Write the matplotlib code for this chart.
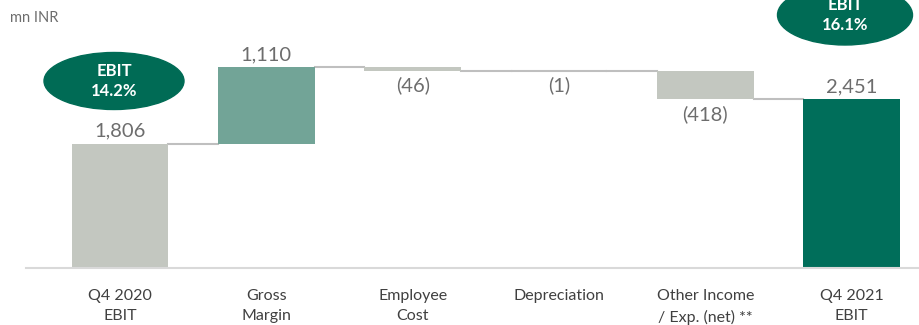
import matplotlib
matplotlib.use("Agg")
import matplotlib.pyplot as plt
from matplotlib.patches import Ellipse

plt.rcParams["font.family"] = ["Lato", "DejaVu Sans"]

categories = ["Q4 2020\nEBIT", "Gross\nMargin", "Employee\nCost", "Depreciation",
              "Other Income\n/ Exp. (net) **", "Q4 2021\nEBIT"]
values = [1806, 1110, -46, -1, -418, 2451]
labels = ["1,806", "1,110", "(46)", "(1)", "(418)", "2,451"]
colors = ["#C3C7C0", "#72A497", "#C3C7C0", "#C3C7C0", "#C3C7C0", "#006E5A"]
ebit_margins = ["EBIT\n14.2%", "EBIT\n16.1%"]

fig = plt.figure(figsize=(9.19, 3.25), dpi=100)
ax = fig.add_axes([26/919, 57/325, (919-26)/919, 268/325])
ax.set_xlim(-0.643, 5.461)
ax.set_ylim(0, 3895)

width = 0.66
bottoms, tops = [], []
running = 0
for i, v in enumerate(values):
    if i == 0 or i == len(values) - 1:
        b, t = 0, v
        running = v
    else:
        start = running
        running = running + v
        b, t = min(start, running), max(start, running)
    bottoms.append(b); tops.append(t)
    ax.bar(i, t - b, bottom=b, width=width, color=colors[i], edgecolor=colors[i] if t - b > 5 else "#BFBFBF",
           linewidth=0 if t - b > 5 else 1.5, zorder=2)

# connectors
level = values[0]
for i in range(len(values) - 1):
    if i > 0:
        level = level + values[i]
    ax.plot([i + width/2, i + 1 - width/2], [level, level], color="#BFBFBF", lw=1.5, zorder=1)

# value labels
for i, v in enumerate(values):
    if v >= 0:
        ax.annotate(labels[i], (i, tops[i]), xytext=(0, 3), textcoords="offset points",
                    ha="center", va="bottom", fontsize=14.5, color="#6D6D6D")
    else:
        ax.annotate(labels[i], (i, bottoms[i]), xytext=(0, -4), textcoords="offset points",
                    ha="center", va="top", fontsize=14.5, color="#6D6D6D")

# ellipses
def px2data(px, py):
    return ax.transData.inverted().transform(fig.transFigure.transform((px/919, 1 - py/325)))

for (cx, cy, w, h), txt in zip([(114, 81, 140, 57), (845, 15, 135, 60)], ebit_margins):
    x0, y0 = px2data(cx - w/2, cy + h/2)
    x1, y1 = px2data(cx + w/2, cy - h/2)
    e = Ellipse(((x0 + x1)/2, (y0 + y1)/2), x1 - x0, y1 - y0, color="#006B55", zorder=3, clip_on=False)
    ax.add_patch(e)
    ax.text((x0 + x1)/2, (y0 + y1)/2, txt, ha="center", va="center", color="white",
            fontsize=12, fontweight="bold", linespacing=1.25, zorder=4, clip_on=False)

ax.set_xticks(range(len(categories)))
ax.set_xticklabels(categories, fontsize=11.5, color="#404040", linespacing=1.55)
ax.tick_params(axis="x", length=0, pad=15)
ax.set_yticks([])
for s in ["top", "right", "left"]:
    ax.spines[s].set_visible(False)
ax.spines["bottom"].set_color("#D9D9D9")
ax.spines["bottom"].set_linewidth(1.5)

fig.text(10/919, 1 - 18/325, "mn INR", fontsize=10.5, color="#6D6D6D", va="center", ha="left")

fig.savefig("out.png", dpi=100)
